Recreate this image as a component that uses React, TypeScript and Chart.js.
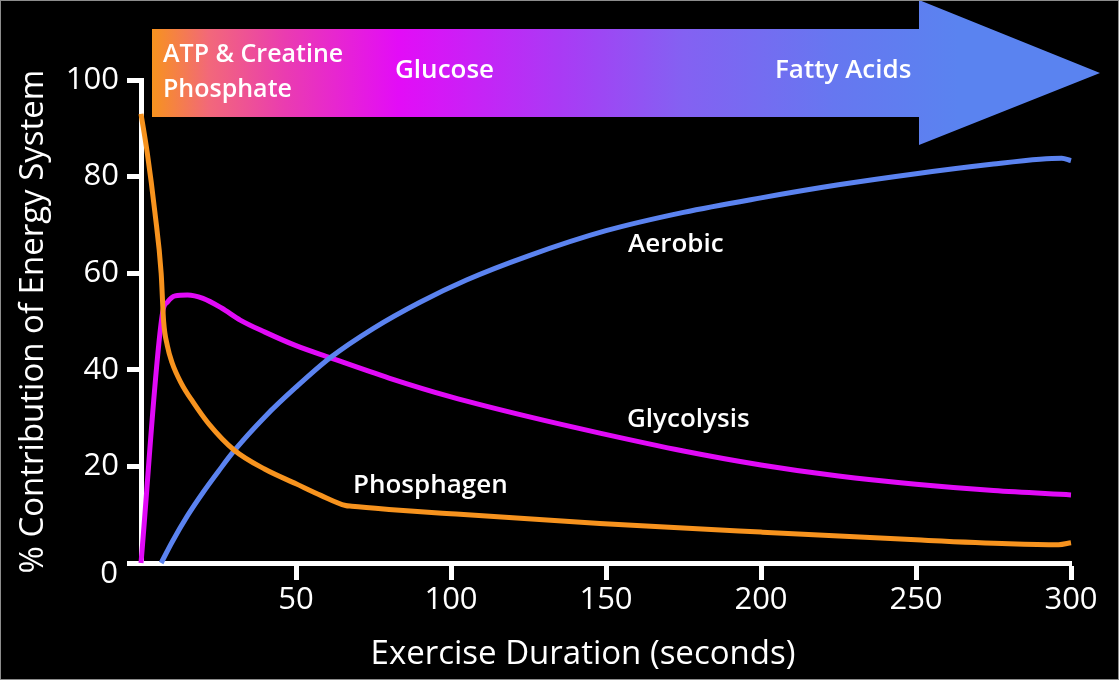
import React, { useEffect, useRef } from 'react';
import { Chart, registerables } from 'chart.js';

Chart.register(...registerables);

// ---- Data ----
const xTickValues = [0, 50, 100, 150, 200, 250, 300];
const yTickValues = [0, 20, 40, 60, 80, 100];

const phosphagenX = [0, 2, 4.5, 6.5, 7.3, 8.5, 10, 13, 16.8, 22, 30, 40, 50, 58, 66, 68, 80, 100, 148, 200, 250, 280, 296, 300];
const phosphagenY = [93, 85, 72.5, 60, 50, 45, 41.5, 37.2, 33.3, 28.7, 23.4, 19.4, 16.4, 14, 11.9, 11.75, 11.1, 10.2, 8.2, 6.4, 4.8, 4, 3.8, 4.2];

const glycolysisX = [0, 7, 8.5, 11, 15, 20, 26, 32, 40, 50, 61, 80, 100, 125, 148, 175, 200, 225, 250, 275, 300];
const glycolysisY = [0, 52, 54, 55.3, 55.5, 54.8, 52.8, 50.3, 47.8, 45, 42.5, 38.3, 34.4, 30.3, 26.9, 23.2, 20.3, 18, 16.3, 15, 14.1];

const aerobicX = [6.5, 10, 15, 20, 25, 30, 40, 50, 61, 75, 90, 105, 125, 150, 175, 200, 225, 250, 275, 290, 297, 300];
const aerobicY = [0, 4.3, 9.8, 14.6, 19, 23.2, 30.3, 36.4, 42.5, 48.6, 54, 58.6, 63.6, 68.8, 72.6, 75.6, 78.3, 80.6, 82.6, 83.6, 83.8, 83.3];

const seriesNames = ['Phosphagen', 'Aerobic', 'Glycolysis'];
const seriesColors = ['#f7931e', '#5b83f0', '#e10af7'];

const arrowLabels = ['ATP & Creatine', 'Phosphate', 'Glucose', 'Fatty Acids'];
const xTitle = 'Exercise Duration (seconds)';
const yTitle = '% Contribution of Energy System';

const FONT = '"Open Sans", "DejaVu Sans", sans-serif';

const toPoints = (xs: number[], ys: number[]) => xs.map((x, i) => ({ x, y: ys[i] }));

const decorPlugin = {
  id: 'decor',
  beforeDraw(chart: any) {
    const { ctx, width, height } = chart;
    ctx.save();
    ctx.fillStyle = '#000';
    ctx.fillRect(0, 0, width, height);

    // gradient arrow
    const g = ctx.createLinearGradient(152, 0, 1100, 0);
    g.addColorStop(0, '#f7931e');
    g.addColorStop(0.06, '#f2687a');
    g.addColorStop(0.14, '#ea3cb0');
    g.addColorStop(0.26, '#e30cf7');
    g.addColorStop(0.43, '#aa3af5');
    g.addColorStop(0.56, '#8461f2');
    g.addColorStop(0.72, '#6677f0');
    g.addColorStop(0.85, '#5a83f0');
    g.addColorStop(1, '#5a83f0');
    ctx.fillStyle = g;
    ctx.beginPath();
    ctx.moveTo(152, 29);
    ctx.lineTo(919, 29);
    ctx.lineTo(919, 0);
    ctx.lineTo(1100, 73);
    ctx.lineTo(919, 145);
    ctx.lineTo(919, 117);
    ctx.lineTo(152, 117);
    ctx.closePath();
    ctx.fill();

    ctx.fillStyle = '#fff';
    ctx.textAlign = 'left';
    ctx.textBaseline = 'alphabetic';
    ctx.font = `600 25px ${FONT}`;
    ctx.fillText(arrowLabels[0], 163, 62);
    ctx.fillText(arrowLabels[1], 163, 97);
    ctx.font = `600 26px ${FONT}`;
    ctx.fillText(arrowLabels[2], 395, 78);
    ctx.fillText(arrowLabels[3], 775, 78);
    ctx.restore();
  },
  afterDraw(chart: any) {
    const { ctx, width, height } = chart;
    ctx.save();
    ctx.fillStyle = '#fff';
    ctx.font = `600 26px ${FONT}`;
    ctx.textAlign = 'left';
    ctx.textBaseline = 'alphabetic';
    ctx.fillText(seriesNames[1], 628, 252);
    ctx.fillText(seriesNames[2], 627, 427);
    ctx.fillText(seriesNames[0], 353, 493);

    // y "0" label (sits slightly below the axis in the reference)
    ctx.font = `31px ${FONT}`;
    ctx.textAlign = 'right';
    ctx.textBaseline = 'middle';
    ctx.fillText(String(yTickValues[0]), 118, 574);

    // x-axis title
    ctx.font = `33px ${FONT}`;
    ctx.textAlign = 'center';
    ctx.fillText(xTitle, 583, 655);

    // thin frame
    ctx.strokeStyle = '#8c8c8c';
    ctx.lineWidth = 1;
    ctx.strokeRect(0.5, 0.5, width - 1, height - 1);
    ctx.restore();
  },
};

export default function App() {
  const canvasRef = useRef<HTMLCanvasElement | null>(null);

  useEffect(() => {
    document.body.style.margin = '0';
    document.body.style.background = '#000';
    const canvas = canvasRef.current;
    if (!canvas) return;

    const xs = [phosphagenX, aerobicX, glycolysisX];
    const ys = [phosphagenY, aerobicY, glycolysisY];

    const chart = new Chart(canvas, {
      type: 'line',
      data: {
        datasets: seriesNames.map((name, i) => ({
          label: name,
          data: toPoints(xs[i], ys[i]),
          borderColor: seriesColors[i],
          backgroundColor: seriesColors[i],
          borderWidth: 5,
          pointRadius: 0,
          fill: false,
          cubicInterpolationMode: 'monotone' as const,
          clip: 10,
        })),
      },
      options: {
        animation: false,
        responsive: false,
        maintainAspectRatio: false,
        devicePixelRatio: 1,
        layout: { padding: { top: 80, right: 48, left: 0, bottom: 0 } },
        plugins: {
          legend: { display: false },
          tooltip: { enabled: false },
        },
        scales: {
          x: {
            type: 'linear',
            min: 0,
            max: 300,
            afterFit: (scale: any) => {
              scale.height = 117;
            },
            afterBuildTicks: (scale: any) => {
              scale.ticks = xTickValues.map((v) => ({ value: v }));
            },
            ticks: {
              autoSkip: false,
              maxRotation: 0,
              padding: 2,
              color: '#fff',
              font: { family: FONT, size: 31 },
              callback: (v: any) => (v === 0 ? '' : String(v)),
            },
            grid: {
              display: true,
              drawOnChartArea: false,
              drawTicks: true,
              tickLength: 17,
              tickWidth: 5,
              tickColor: (c: any) => (c.tick && c.tick.value === 0 ? 'rgba(0,0,0,0)' : '#fff'),
              color: '#fff',
            },
            border: { display: true, color: '#fff', width: 5 },
          },
          y: {
            type: 'linear',
            min: 0,
            max: 100,
            afterFit: (scale: any) => {
              scale.width = 141;
            },
            afterBuildTicks: (scale: any) => {
              scale.ticks = yTickValues.map((v) => ({ value: v }));
            },
            ticks: {
              autoSkip: false,
              padding: 8,
              color: '#fff',
              font: { family: FONT, size: 31 },
              callback: (v: any) => (v === 0 ? '' : String(v)),
            },
            grid: {
              display: true,
              drawOnChartArea: false,
              drawTicks: true,
              tickLength: 14,
              tickWidth: 5,
              tickColor: '#fff',
              color: '#fff',
            },
            border: { display: true, color: '#fff', width: 5 },
            title: {
              display: true,
              text: yTitle,
              color: '#fff',
              font: { family: FONT, size: 33, lineHeight: 1.2 },
              padding: { top: 14, bottom: 0 },
            },
          },
        },
      },
      plugins: [decorPlugin],
    } as any);

    let alive = true;
    const fonts: any = (document as any).fonts;
    if (fonts && fonts.load) {
      Promise.all([fonts.load(`31px ${FONT}`), fonts.load(`600 26px ${FONT}`)])
        .then(() => {
          if (alive) chart.update();
        })
        .catch(() => {});
    }

    return () => {
      alive = false;
      chart.destroy();
    };
  }, []);

  return (
    <div style={{ width: 1119, height: 680, background: '#000' }}>
      <canvas ref={canvasRef} width={1119} height={680} style={{ display: 'block', width: 1119, height: 680 }} />
    </div>
  );
}
